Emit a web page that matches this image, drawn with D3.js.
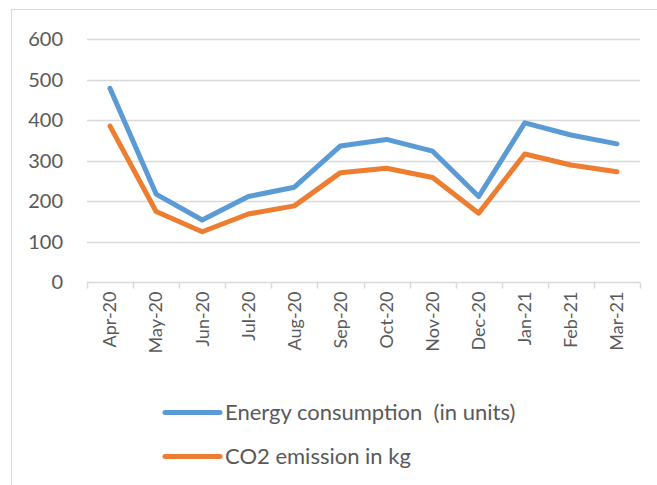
<!DOCTYPE html>
<html>
<head>
<meta charset="utf-8">
<script src="https://d3js.org/d3.v7.min.js"></script>
<style>
  body { margin: 0; background: #fff; }
  text { font-family: Lato, "Open Sans", sans-serif; fill: #595959; white-space: pre; }
</style>
</head>
<body>
<script>
var months = ['Apr-20', 'May-20', 'Jun-20', 'Jul-20', 'Aug-20', 'Sep-20',
  'Oct-20', 'Nov-20', 'Dec-20', 'Jan-21', 'Feb-21', 'Mar-21'];
var energy = [478, 217, 153, 211, 234, 336, 352, 323, 211, 393, 363, 341];
var co2 = [385, 174, 124, 168, 188, 270, 281, 258, 170, 316, 289, 272];
var yTicks = [0, 100, 200, 300, 400, 500, 600];
var seriesNames = ['Energy consumption  (in units)', 'CO2 emission in kg'];
var seriesColors = ['#5B9BD5', '#ED7D31'];

var W = 657, H = 485;
var svg = d3.select('body').append('svg').attr('width', W).attr('height', H);

// chart frame (only top and left edges are inside the picture)
svg.append('rect').attr('x', 11.5).attr('y', 9.5).attr('width', 700).attr('height', 600)
  .attr('fill', 'none').attr('stroke', '#d9d9d9').attr('stroke-width', 1);

var plotL = 87, plotR = 640, plotT = 39, plotB = 282;
var x = d3.scaleBand().domain(months).range([plotL, plotR]);
var y = d3.scaleLinear().domain([0, 600]).range([plotB, plotT]);

// gridlines
svg.append('g').selectAll('line').data(yTicks.slice(1)).enter().append('line')
  .attr('x1', plotL).attr('x2', plotR)
  .attr('y1', function (d) { return Math.round(y(d)) + 0.5; })
  .attr('y2', function (d) { return Math.round(y(d)) + 0.5; })
  .attr('stroke', '#d9d9d9').attr('stroke-width', 1.5);

// y labels
svg.append('g').selectAll('text').data(yTicks).enter().append('text')
  .attr('x', 63).attr('y', function (d) { return y(d); })
  .attr('dy', '0.35em').attr('text-anchor', 'end')
  .style('font-size', '20px').text(function (d) { return d; });

// x axis
var xAxis = svg.append('g').attr('transform', 'translate(0,' + (plotB + 0.5) + ')');
xAxis.append('line').attr('x1', plotL).attr('x2', plotR).attr('stroke', '#d9d9d9').attr('stroke-width', 1.5);
var edges = months.map(function (m) { return x(m); }).concat([plotR]);
xAxis.selectAll('line.tick').data(edges).enter().append('line').attr('class', 'tick')
  .attr('x1', function (d) { return Math.round(d) + 0.5; })
  .attr('x2', function (d) { return Math.round(d) + 0.5; })
  .attr('y1', 0).attr('y2', 6).attr('stroke', '#d9d9d9').attr('stroke-width', 1.5);
xAxis.selectAll('text').data(months).enter().append('text')
  .attr('transform', function (d) {
    return 'translate(' + (x(d) + x.bandwidth() / 2) + ',9) rotate(-90)';
  })
  .attr('text-anchor', 'end').attr('dy', '0.35em')
  .style('font-size', '18px').text(function (d) { return d; });

// lines
var line = d3.line()
  .x(function (d, i) { return x(months[i]) + x.bandwidth() / 2; })
  .y(function (d) { return y(d); });
[energy, co2].forEach(function (vals, i) {
  svg.append('path').datum(vals).attr('d', line)
    .attr('fill', 'none').attr('stroke', seriesColors[i]).attr('stroke-width', 5)
    .attr('stroke-linejoin', 'round').attr('stroke-linecap', 'round');
});

// legend
var legend = svg.selectAll('.legend').data(seriesNames).enter().append('g')
  .attr('transform', function (d, i) { return 'translate(165,' + (412.5 + i * 44) + ')'; });
legend.append('line').attr('x1', 0).attr('x2', 55)
  .attr('stroke', function (d, i) { return seriesColors[i]; })
  .attr('stroke-width', 5).attr('stroke-linecap', 'round');
legend.append('text').attr('x', 60).attr('dy', '0.35em')
  .style('font-size', '22px').text(function (d) { return d; });
</script>
</body>
</html>
